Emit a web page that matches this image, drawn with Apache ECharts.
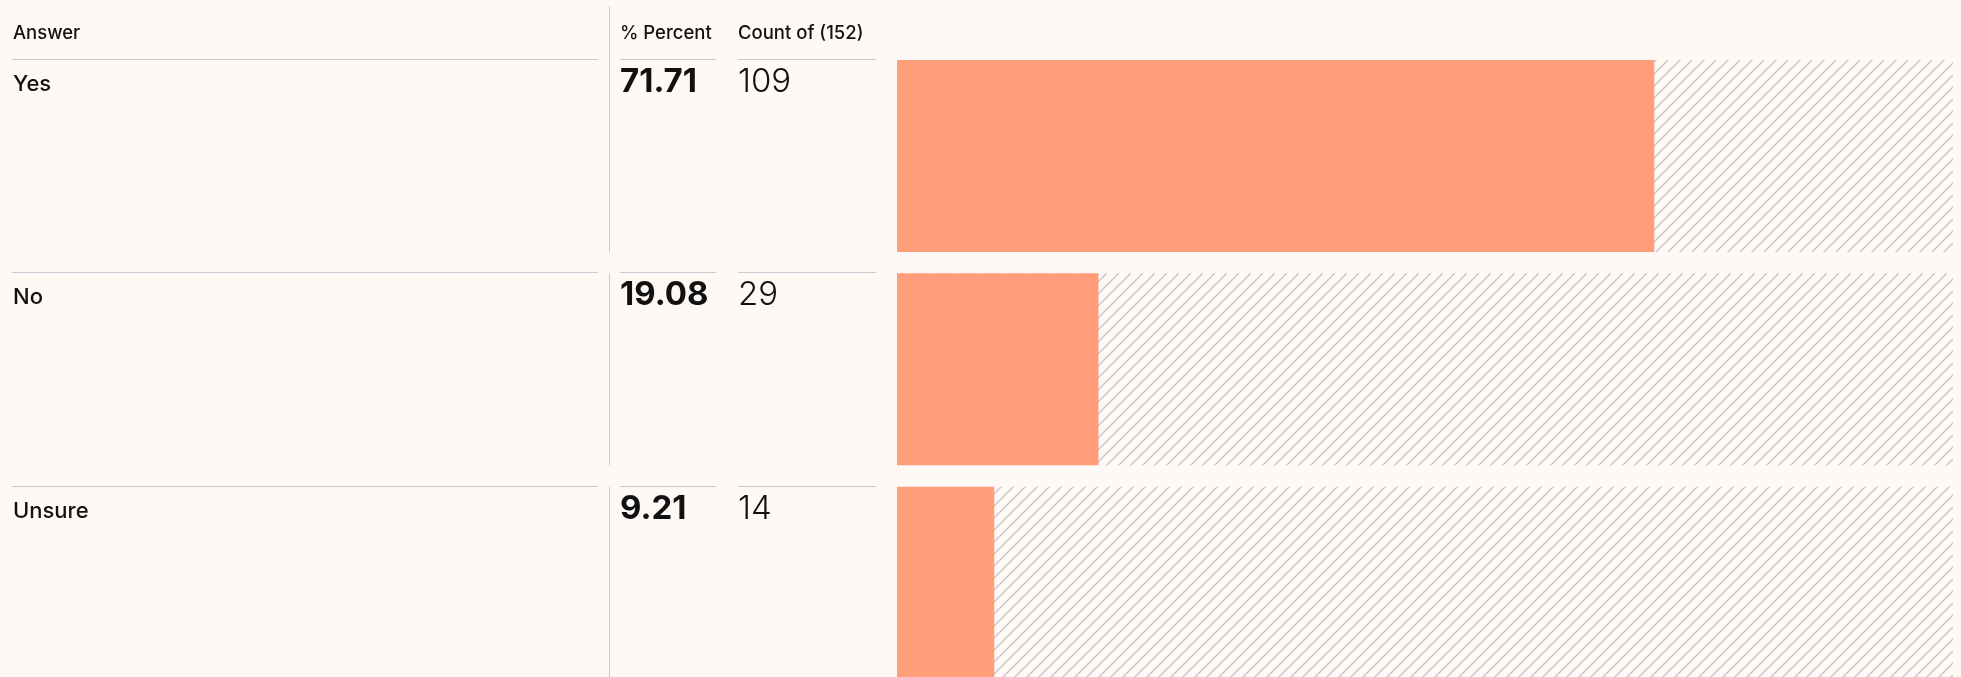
<!DOCTYPE html>
<html>
<head>
<meta charset="utf-8">
<style>
  html, body { margin: 0; padding: 0; background: #fff9f6; overflow: hidden; }
  #main { width: 1961px; height: 700px; }
</style>
<script src="https://cdn.jsdelivr.net/npm/echarts@6/dist/echarts.min.js"></script>
</head>
<body>
<div id="main"></div>
<script>
// data
var answers = ['Yes', 'No', 'Unsure'];
var percents = [71.71, 19.08, 9.21];
var counts = [109, 29, 14];
var totalCount = 152;
var maxPercent = [100, 100, 100];

var bg = '#fff9f6';
var orange = '#ff9e79';
var ruleColor = '#c9c9d3';
var font = 'Inter, "Noto Sans", sans-serif';

// hatch pattern for the remaining part of each bar
function hatch() {
  var c = document.createElement('canvas');
  c.width = 12; c.height = 12;
  var ctx = c.getContext('2d');
  ctx.fillStyle = bg;
  ctx.fillRect(0, 0, 12, 12);
  ctx.strokeStyle = '#c3c3cc';
  ctx.lineWidth = 1.4;
  ctx.beginPath();
  ctx.moveTo(-1, 13); ctx.lineTo(13, -1);
  ctx.moveTo(-7, 7); ctx.lineTo(7, -7);
  ctx.moveTo(5, 19); ctx.lineTo(19, 5);
  ctx.stroke();
  return c;
}

var chart = echarts.init(document.getElementById('main'));
var barH = 192;

chart.setOption({
  backgroundColor: bg,
  animation: false,
  grid: { left: 897, right: 8, top: 49.3, height: 640 },
  xAxis: { type: 'value', min: 0, max: 100, show: false },
  yAxis: { type: 'category', data: answers, inverse: true, show: false },
  series: [
    {
      type: 'bar', data: maxPercent, barWidth: barH, barGap: '-100%', z: 1,
      itemStyle: { color: { image: hatch(), repeat: 'repeat' } },
      silent: true
    },
    {
      type: 'bar', data: percents, barWidth: barH, z: 2,
      itemStyle: { color: orange }
    }
  ]
});

// table part drawn next to the bars
var els = [];
function line(x1, y1, x2, y2) {
  els.push({ type: 'line', shape: { x1: x1, y1: y1, x2: x2, y2: y2 },
    style: { stroke: ruleColor, lineWidth: 1 }, silent: true });
}
function text(x, y, s, size, weight) {
  els.push({ type: 'text', x: x, y: y,
    style: { text: s, font: weight + ' ' + size + 'px ' + font, fill: '#111',
      textVerticalAlign: 'middle' }, silent: true });
}

text(13, 33, 'Answer', 18.5, 500);
text(620, 33, '% Percent', 18.5, 500);
text(738, 33, 'Count of (' + totalCount + ')', 18.5, 500);

answers.forEach(function (a, i) {
  var cy = chart.convertToPixel({ yAxisIndex: 0 }, a);
  var top = Math.round(cy - barH / 2);
  line(12, top - 0.5, 598, top - 0.5);
  line(620, top - 0.5, 716, top - 0.5);
  line(738, top - 0.5, 876, top - 0.5);
  line(609.5, i === 0 ? 6 : top, 609.5, top + barH);
  text(13, top + 24, a, 22, 500);
  text(620, top + 22, percents[i].toFixed(2), 33, 700);
  text(738, top + 22, String(counts[i]), 33, 300);
});

chart.setOption({ graphic: { elements: els } });
</script>
</body>
</html>
